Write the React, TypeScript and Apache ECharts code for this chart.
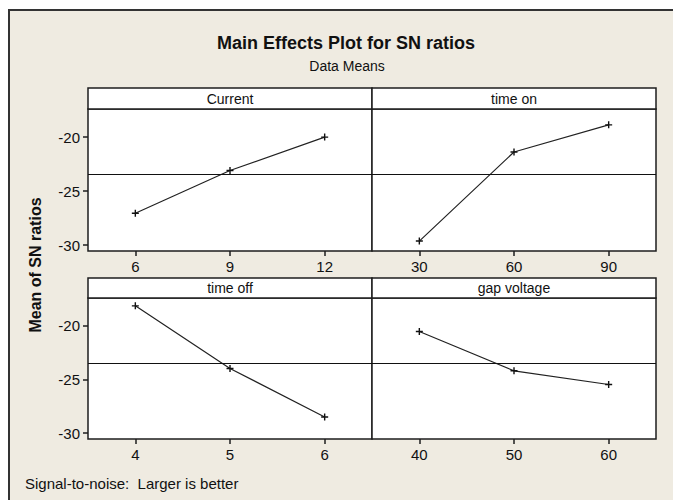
import React, { useEffect, useRef } from "react";
import * as echarts from "echarts";

const factorNames = ["Current", "time on", "time off", "gap voltage"];
const currentLevels = ["6", "9", "12"];
const currentSN = [-27.05, -23.1, -20.0];
const timeOnLevels = ["30", "60", "90"];
const timeOnSN = [-29.63, -21.38, -18.87];
const timeOffLevels = ["4", "5", "6"];
const timeOffSN = [-18.13, -23.97, -28.5];
const gapLevels = ["40", "50", "60"];
const gapSN = [-20.53, -24.19, -25.47];
const meanSN = -23.45;
const yTickValues = [-30, -25, -20];

const levelsList = [currentLevels, timeOnLevels, timeOffLevels, gapLevels];
const valuesList = [currentSN, timeOnSN, timeOffSN, gapSN];

const FONT = "'Liberation Sans', Arial, sans-serif";
const DARK = "#1e1e1e";

export default function App() {
  const ref = useRef<HTMLDivElement>(null);
  useEffect(() => {
    if (!ref.current) return;
    const chart = echarts.init(ref.current, null, { renderer: "svg" });
    const grids = [
      { left: 88, top: 109, width: 284, height: 142 },
      { left: 372, top: 109, width: 284, height: 142 },
      { left: 88, top: 298, width: 284, height: 141 },
      { left: 372, top: 298, width: 284, height: 141 },
    ];
    const plus = "path://M2,0H3V2H5V3H3V5H2V3H0V2H2Z";
    const option: any = {
      animation: false,
      backgroundColor: "#EFEBE1",
      grid: grids.map((g) => ({
        ...g,
        show: true,
        backgroundColor: "#ffffff",
        borderColor: DARK,
        borderWidth: 1.5,
        containLabel: false,
      })),
      xAxis: levelsList.map((lv, i) => ({
        type: "category",
        gridIndex: i,
        data: lv,
        boundaryGap: true,
        axisLine: { show: false },
        axisTick: { show: true, alignWithLabel: true, length: 5, lineStyle: { color: DARK, width: 1.5 } },
        axisLabel: { color: "#111", fontSize: 15, fontFamily: FONT, margin: 8 },
        splitLine: { show: false },
      })),
      yAxis: levelsList.map((_, i) => ({
        type: "value",
        gridIndex: i,
        min: -30.55,
        max: -17.4,
        axisLine: { show: false },
        axisTick: {
          show: i % 2 === 0,
          length: 5,
          customValues: yTickValues,
          lineStyle: { color: DARK, width: 1.5 },
        },
        axisLabel: {
          show: i % 2 === 0,
          customValues: yTickValues,
          color: "#111",
          fontSize: 15,
          fontFamily: FONT,
          margin: 8,
        },
        splitLine: { show: false },
      })),
      series: valuesList.map((vals, i) => ({
        type: "line",
        xAxisIndex: i,
        yAxisIndex: i,
        data: vals,
        symbol: plus,
        symbolSize: 7,
        showSymbol: true,
        itemStyle: { color: "#111" },
        lineStyle: { color: "#222", width: 1.2 },
        markLine: {
          silent: true,
          symbol: "none",
          label: { show: false },
          lineStyle: { color: "#111", type: "solid", width: 1 },
          data: [{ yAxis: meanSN }],
        },
      })),
      graphic: [
        { type: "rect", shape: { x: 0, y: 0, width: 673, height: 9 }, style: { fill: "#ffffff" } },
        { type: "rect", shape: { x: 0, y: 0, width: 8, height: 500 }, style: { fill: "#ffffff" } },
        { type: "line", shape: { x1: 9, y1: 10, x2: 673, y2: 10 }, style: { stroke: "#333", lineWidth: 2 } },
        { type: "line", shape: { x1: 9, y1: 9, x2: 9, y2: 500 }, style: { stroke: "#333", lineWidth: 2 } },
        ...[
          { x: 88, y: 88, h: 21 },
          { x: 372, y: 88, h: 21 },
          { x: 88, y: 278, h: 20 },
          { x: 372, y: 278, h: 20 },
        ].map((r) => ({
          type: "rect",
          shape: { x: r.x, y: r.y, width: 284, height: r.h },
          style: { fill: "#ffffff", stroke: DARK, lineWidth: 1.5 },
        })),
        ...factorNames.map((name, i) => ({
          type: "text",
          x: (i % 2 === 0 ? 88 : 372) + 142,
          y: i < 2 ? 98.5 : 288,
          style: {
            text: name,
            font: `14px ${FONT}`,
            fill: "#111",
            textAlign: "center",
            textVerticalAlign: "middle",
          },
        })),
        {
          type: "text",
          x: 346,
          y: 43,
          style: {
            text: "Main Effects Plot for SN ratios",
            font: `bold 18px ${FONT}`,
            fill: "#111",
            textAlign: "center",
            textVerticalAlign: "middle",
          },
        },
        {
          type: "text",
          x: 347,
          y: 66,
          style: {
            text: "Data Means",
            font: `14px ${FONT}`,
            fill: "#111",
            textAlign: "center",
            textVerticalAlign: "middle",
          },
        },
        {
          type: "text",
          x: 35,
          y: 265,
          rotation: Math.PI / 2,
          style: {
            text: "Mean of SN ratios",
            font: `bold 16px ${FONT}`,
            fill: "#111",
            textAlign: "center",
            textVerticalAlign: "middle",
          },
        },
        {
          type: "text",
          x: 25,
          y: 483,
          style: {
            text: "Signal-to-noise:  Larger is better",
            font: `15px ${FONT}`,
            fill: "#111",
            textAlign: "left",
            textVerticalAlign: "middle",
          },
        },
      ],
    };
    chart.setOption(option);
    return () => chart.dispose();
  }, []);
  return (
    <div
      ref={ref}
      style={{ position: "fixed", left: 0, top: 0, width: 673, height: 500 }}
    />
  );
}
